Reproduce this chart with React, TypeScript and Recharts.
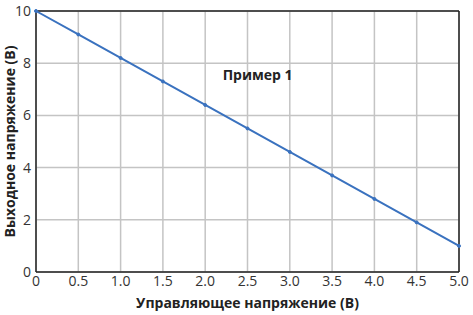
import { LineChart, Line, XAxis, YAxis, CartesianGrid, ReferenceLine, ReferenceDot } from 'recharts'

const controlVoltage = [0, 0.5, 1.0, 1.5, 2.0, 2.5, 3.0, 3.5, 4.0, 4.5, 5.0]
const outputVoltage = [10, 9.1, 8.2, 7.3, 6.4, 5.5, 4.6, 3.7, 2.8, 1.9, 1.0]
const xTicks = [0, 0.5, 1, 1.5, 2, 2.5, 3, 3.5, 4, 4.5, 5]
const yTicks = [0, 2, 4, 6, 8, 10]

const data = controlVoltage.map((v, i) => ({ x: v, y: outputVoltage[i] }))

const font = '"Open Sans", "Noto Sans", sans-serif'
const tickStyle = { fill: '#333', fontSize: 14, fontFamily: font }

// rotated y label, drawn by hand so it isn't wrapped
function YLabel(props: any) {
  const vb = props.viewBox || {}
  const cx = vb.x + 3
  const cy = vb.y + vb.height / 2
  return (
    <text
      x={cx}
      y={cy}
      transform={`rotate(-90, ${cx}, ${cy})`}
      textAnchor="middle"
      dominantBaseline="central"
      fill="#222"
      fontSize={14}
      fontWeight={700}
      fontFamily={font}
    >
      Выходное напряжение (В)
    </text>
  )
}

export default function App() {
  return (
    <div style={{ position: 'absolute', left: 0, top: 0, width: 473, height: 315, background: '#fff' }}>
      <LineChart width={473} height={315} data={data} margin={{ top: 11, right: 14, left: 6, bottom: 0 }}>
        <CartesianGrid stroke="#c4c4c4" strokeWidth={1.5} />
        <XAxis
          dataKey="x"
          type="number"
          domain={[0, 5]}
          ticks={xTicks}
          interval={0}
          height={43}
          tickLine={false}
          tickSize={2}
          tickMargin={2}
          stroke="#222"
          strokeWidth={1.5}
          tick={tickStyle}
          tickFormatter={(v: number) => (v === 0 ? '0' : v.toFixed(1))}
          label={{ value: 'Управляющее напряжение (В)', position: 'insideBottom', offset: 7, fill: '#222', fontSize: 14, fontWeight: 700, fontFamily: font }}
        />
        <YAxis
          type="number"
          domain={[0, 10]}
          ticks={yTicks}
          interval={0}
          width={30}
          tickLine={false}
          tickSize={3}
          tickMargin={2}
          stroke="#222"
          strokeWidth={1.5}
          tick={tickStyle}
          label={{ content: YLabel }}
        />
        <ReferenceLine y={10} stroke="#222" strokeWidth={1.5} />
        <ReferenceLine x={5} stroke="#222" strokeWidth={1.5} />
        <ReferenceDot
          x={2.62}
          y={7.55}
          r={0}
          label={{ value: 'Пример 1', position: 'center', fill: '#222', fontSize: 14, fontWeight: 700, fontFamily: font }}
        />
        <Line
          type="linear"
          dataKey="y"
          stroke="#3a72bf"
          strokeWidth={2}
          dot={{ r: 1.5, fill: '#3a72bf', stroke: '#3a72bf', strokeWidth: 1 }}
          isAnimationActive={false}
        />
      </LineChart>
    </div>
  )
}
